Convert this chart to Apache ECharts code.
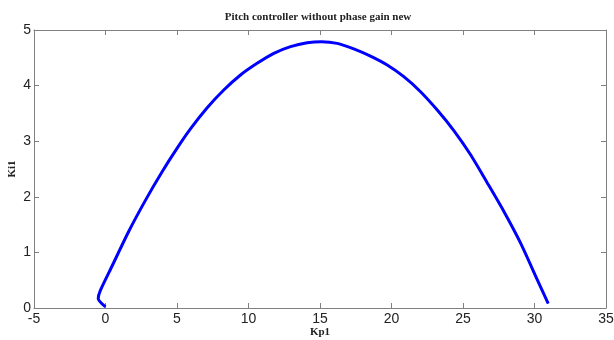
<!DOCTYPE html>
<html>
<head>
<meta charset="utf-8">
<script src="https://cdn.jsdelivr.net/npm/echarts@6/dist/echarts.min.js"></script>
<style>
  html, body { margin: 0; padding: 0; background: #fff; }
  #chart { width: 614px; height: 340px; }
</style>
</head>
<body>
<div id="chart"></div>
<script>
// Kp1 / Ki1 values, in drawing order
var kp1 = [0.0, -0.51, -0.35, 0.47, 1.63, 2.8, 3.96, 5.0, 5.94, 7.11, 8.27, 9.44, 10.6, 11.77, 12.94, 14.1, 15.1,
           16.2, 17.36, 18.53, 19.7, 20.86, 22.03, 23.2, 24.36, 25.52, 26.7, 27.85, 29.02, 30.19, 30.96];
var ki1 = [0.02, 0.17, 0.32, 0.76, 1.38, 1.94, 2.45, 2.87, 3.22, 3.60, 3.92, 4.19, 4.40, 4.58, 4.70, 4.77, 4.79,
           4.76, 4.66, 4.53, 4.37, 4.16, 3.89, 3.56, 3.19, 2.76, 2.25, 1.74, 1.17, 0.51, 0.08];
var xTicks = { min: -5, max: 35, interval: 5 };
var yTicks = { min: 0, max: 5, interval: 1 };

var points = kp1.map(function (x, i) { return [x, ki1[i]]; });

var axisLine = { onZero: false, lineStyle: { color: '#808080', width: 1 } };
var axisTick = { inside: true, length: 5, lineStyle: { color: '#808080' } };
var tickFont = { color: '#222', fontSize: 14, fontFamily: 'Liberation Sans, Arial, sans-serif' };
var nameFont = { color: '#222', fontSize: 11, fontWeight: 'bold', fontFamily: 'Liberation Serif, Times New Roman, serif' };

var chart = echarts.init(document.getElementById('chart'));
chart.setOption({
    animation: false,
    title: {
        text: 'Pitch controller without phase gain new',
        left: 313,
        textAlign: 'center',
        top: 7,
        textStyle: { color: '#222', fontSize: 11, fontWeight: 'bold', fontFamily: 'Liberation Serif, Times New Roman, serif' }
    },
    grid: { left: 34, right: 8, top: 30, bottom: 32, outerBoundsMode: 'none' },
    xAxis: [{
        type: 'value', position: 'bottom',
        min: xTicks.min, max: xTicks.max, interval: xTicks.interval,
        name: 'Kp1', nameLocation: 'middle', nameGap: 19, nameMoveOverlap: false, nameTextStyle: nameFont,
        axisLine: axisLine, axisTick: axisTick, splitLine: { show: false },
        axisLabel: Object.assign({ margin: 4 }, tickFont)
    }, {
        type: 'value', position: 'top',
        min: xTicks.min, max: xTicks.max, interval: xTicks.interval,
        axisLine: axisLine, axisTick: axisTick, splitLine: { show: false },
        axisLabel: { show: false }
    }],
    yAxis: [{
        type: 'value', position: 'left',
        min: yTicks.min, max: yTicks.max, interval: yTicks.interval,
        name: 'Ki1', nameLocation: 'middle', nameGap: 16, nameMoveOverlap: false, nameTextStyle: nameFont,
        axisLine: axisLine, axisTick: axisTick, splitLine: { show: false },
        axisLabel: Object.assign({ margin: 3 }, tickFont)
    }, {
        type: 'value', position: 'right',
        min: yTicks.min, max: yTicks.max, interval: yTicks.interval,
        axisLine: axisLine, axisTick: axisTick, splitLine: { show: false },
        axisLabel: { show: false }
    }],
    series: [{
        type: 'line',
        data: points,
        smooth: 0.25,
        showSymbol: false,
        lineStyle: { color: '#0000ff', width: 3 }
    }]
});
</script>
</body>
</html>
